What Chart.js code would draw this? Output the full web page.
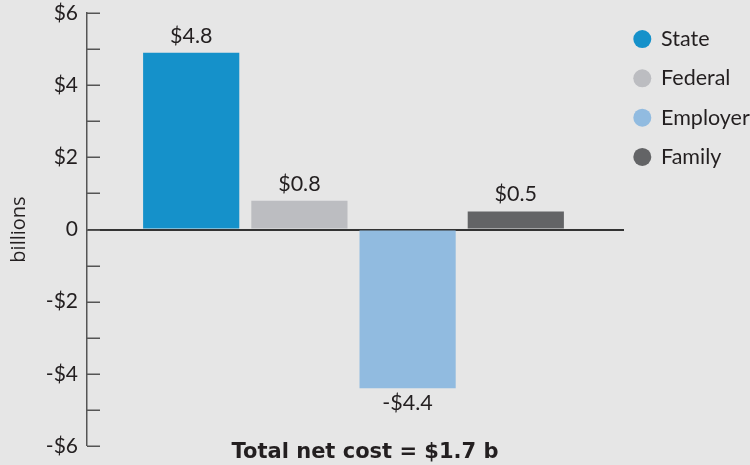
<!DOCTYPE html>
<html>
<head>
<meta charset="utf-8">
<script src="https://cdn.jsdelivr.net/npm/chart.js@4.4.1/dist/chart.umd.min.js"></script>
<style>
  html, body { margin: 0; padding: 0; background: #e6e6e6; }
  #wrap { width: 750px; height: 465px; }
</style>
</head>
<body>
<div id="wrap"><canvas id="c" width="750" height="465"></canvas></div>
<script>
const categories = ['State', 'Federal', 'Employer', 'Family'];
const values = [4.9, 0.8, -4.4, 0.5];
const valueLabels = ['$4.8', '$0.8', '-$4.4', '$0.5'];
const colors = ['#1591ca', '#bcbdc1', '#91bbe0', '#636466'];
const yTickLabels = { '6': '$6', '4': '$4', '2': '$2', '0': '0', '-2': '-$2', '-4': '-$4', '-6': '-$6' };
const yAxisTitle = 'billions';
const bottomTitle = 'Total net cost = $1.7 b';

const FONT = 'Lato, "Open Sans", sans-serif';
const TEXT = '#231f20';

const datasets = categories.map((c, i) => ({
  label: c,
  data: [{ x: i, y: values[i] }],
  backgroundColor: colors[i],
  borderWidth: 0,
  categoryPercentage: 1,
  barPercentage: 0.889,
  grouped: false
}));

const innerTicks = {
  id: 'innerTicks',
  afterDraw(chart) {
    const y = chart.scales.y, ctx = chart.ctx, left = chart.chartArea.left;
    ctx.save();
    ctx.strokeStyle = '#555';
    ctx.lineWidth = 1.5;
    y.ticks.forEach(t => {
      const py = Math.round(y.getPixelForValue(t.value)) + 0.25;
      ctx.beginPath();
      ctx.moveTo(left, py);
      ctx.lineTo(left + 13, py);
      ctx.stroke();
    });
    ctx.restore();
  }
};

const valueLabelPlugin = {
  id: 'valueLabels',
  afterDatasetsDraw(chart) {
    const ctx = chart.ctx;
    ctx.save();
    ctx.font = '21.5px ' + FONT;
    ctx.fillStyle = TEXT;
    ctx.textAlign = 'center';
    ctx.textBaseline = 'middle';
    chart.data.datasets.forEach((ds, i) => {
      const el = chart.getDatasetMeta(i).data[0];
      const v = values[i];
      const ty = v >= 0 ? el.y - 17 : el.y + 15;
      ctx.fillText(valueLabels[i], el.x, ty);
    });
    ctx.restore();
  }
};

const shiftTitle = {
  id: 'shiftTitle',
  afterLayout(chart) {
    if (chart.titleBlock) { chart.titleBlock.left -= 20; }
  }
};

new Chart(document.getElementById('c'), {
  type: 'bar',
  data: { datasets },
  options: {
    responsive: false,
    animation: false,
    devicePixelRatio: 1,
    layout: { padding: { left: 0, top: 13, right: 0, bottom: 0 } },
    scales: {
      x: {
        type: 'linear',
        display: false,
        offset: false,
        min: -0.963,
        max: 4.0,
        afterBuildTicks(scale) { scale.ticks = categories.map((c, i) => ({ value: i })); }
      },
      y: {
        min: -6,
        max: 6,
        afterFit(scale) { scale.width = 87; },
        ticks: {
          stepSize: 1,
          padding: 0,
          color: TEXT,
          font: { family: FONT, size: 21 },
          callback: v => (yTickLabels[String(v)] !== undefined ? yTickLabels[String(v)] : '')
        },
        grid: {
          drawTicks: true,
          tickLength: 9,
          tickColor: 'rgba(0,0,0,0)',
          drawOnChartArea: true,
          color: ctx => (ctx.tick && ctx.tick.value === 0 ? '#333333' : 'rgba(0,0,0,0)'),
          lineWidth: ctx => (ctx.tick && ctx.tick.value === 0 ? 2 : 0)
        },
        border: { display: true, color: '#555555', width: 1.5 },
        title: {
          display: true,
          text: yAxisTitle,
          color: TEXT,
          font: { family: '"Open Sans", Lato, sans-serif', size: 20 },
          padding: { top: 7, bottom: 0 }
        }
      }
    },
    plugins: {
      legend: {
        display: true,
        position: 'right',
        align: 'start',
        maxWidth: 126,
        title: { display: true, text: '', font: { size: 5, lineHeight: '5px' }, padding: 0 },
        labels: {
          usePointStyle: true,
          pointStyle: 'circle',
          boxWidth: 16,
          boxHeight: 12.73,
          padding: 10.3,
          color: TEXT,
          font: { family: FONT, size: 21.5, lineHeight: '29px' },
          generateLabels(chart) {
            return chart.data.datasets.map((ds, i) => ({
              text: [ds.label],
              fillStyle: ds.backgroundColor,
              strokeStyle: ds.backgroundColor,
              lineWidth: 0,
              pointStyle: 'circle',
              hidden: false,
              datasetIndex: i,
              fontColor: TEXT
            }));
          }
        }
      },
      title: {
        display: true,
        position: 'bottom',
        text: bottomTitle,
        color: TEXT,
        font: { family: '"DejaVu Sans", sans-serif', size: 21, weight: 'bold', lineHeight: '14px' },
        padding: { top: 0, bottom: 5 }
      },
      tooltip: { enabled: false }
    }
  },
  plugins: [innerTicks, valueLabelPlugin, shiftTitle]
});
</script>
</body>
</html>
